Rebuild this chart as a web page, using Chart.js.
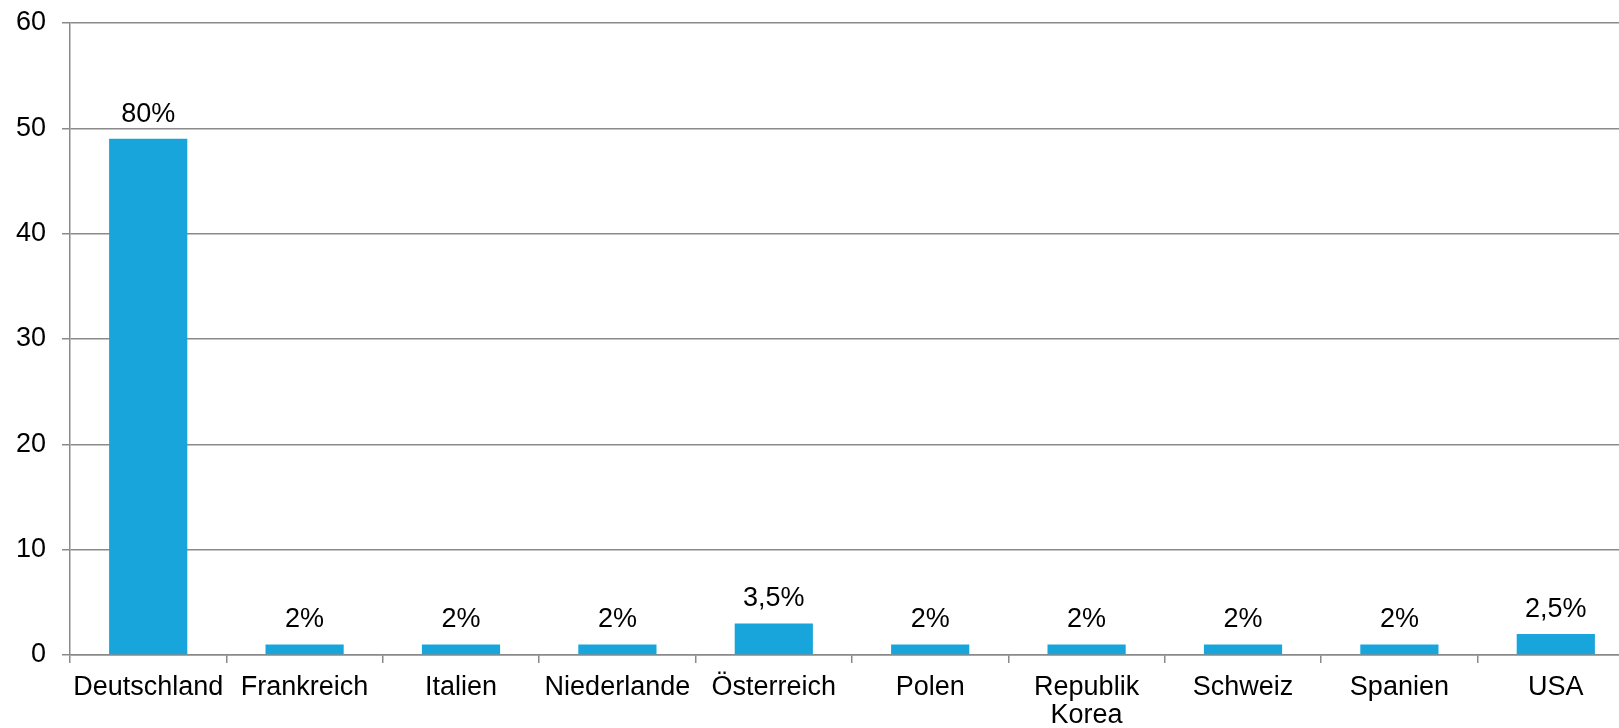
<!DOCTYPE html>
<html>
<head>
<meta charset="utf-8">
<script src="https://cdn.jsdelivr.net/npm/chart.js@4/dist/chart.umd.min.js"></script>
<style>
  html, body { margin: 0; padding: 0; background: #fff; overflow: hidden; }
  #wrap { width: 1634px; height: 728px; position: relative; }
</style>
</head>
<body>
<div id="wrap"><canvas id="myChart"></canvas></div>
<script>
const countries = ["Deutschland", "Frankreich", "Italien", "Niederlande", "Österreich", "Polen", ["Republik", "Korea"], "Schweiz", "Spanien", "USA"];
const values = [49, 1, 1, 1, 3, 1, 1, 1, 1, 2];
const valueLabels = ["80%", "2%", "2%", "2%", "3,5%", "2%", "2%", "2%", "2%", "2,5%"];
const yTicks = [0, 10, 20, 30, 40, 50, 60];

const barColor = "#18a5dc";
const lineColor = "#8a8a8a";
const fontFamily = "'Liberation Sans', Arial, Helvetica, sans-serif";
const fontSize = 27;

// eigene Beschriftung über den Balken
const barLabels = {
  id: "barLabels",
  afterDatasetsDraw(chart) {
    const ctx = chart.ctx;
    const meta = chart.getDatasetMeta(0);
    ctx.save();
    ctx.font = fontSize + "px " + fontFamily;
    ctx.fillStyle = "#000";
    ctx.textAlign = "center";
    ctx.textBaseline = "alphabetic";
    meta.data.forEach((bar, i) => {
      ctx.fillText(valueLabels[i], bar.x, bar.y - 17);
    });
    ctx.restore();
  },
};

const ctx = document.getElementById("myChart").getContext("2d");
new Chart(ctx, {
  type: "bar",
  data: {
    labels: countries,
    datasets: [
      {
        data: values,
        backgroundColor: barColor,
        borderWidth: 0,
        barPercentage: 0.5,
        categoryPercentage: 1,
      },
    ],
  },
  options: {
    responsive: true,
    maintainAspectRatio: false,
    animation: false,
    layout: { padding: { top: 23, left: 0, right: 0, bottom: 0 } },
    plugins: {
      legend: { display: false },
      tooltip: { enabled: false },
    },
    scales: {
      x: {
        offset: true,
        grid: {
          offset: true,
          drawOnChartArea: false,
          drawTicks: true,
          tickLength: 8,
          color: lineColor,
          lineWidth: 1.5,
        },
        border: { color: lineColor, width: 1.5 },
        ticks: {
          color: "#000",
          padding: 10,
          maxRotation: 0,
          autoSkip: false,
          font: { family: fontFamily, size: fontSize, lineHeight: 1.06 },
        },
        afterFit(scale) {
          scale.height = 73;
        },
      },
      y: {
        min: 0,
        max: 60,
        afterBuildTicks(scale) {
          scale.ticks = yTicks.map((v) => ({ value: v }));
        },
        grid: {
          color: lineColor,
          lineWidth: 1.5,
          drawTicks: true,
          tickLength: 8,
        },
        border: { color: lineColor, width: 1.5 },
        ticks: {
          color: "#000",
          padding: 16,
          font: { family: fontFamily, size: fontSize },
        },
        afterFit(scale) {
          scale.width = 70;
          scale.paddingTop = 0;
          scale.paddingBottom = 0;
        },
      },
    },
  },
  plugins: [barLabels],
});
</script>
</body>
</html>
